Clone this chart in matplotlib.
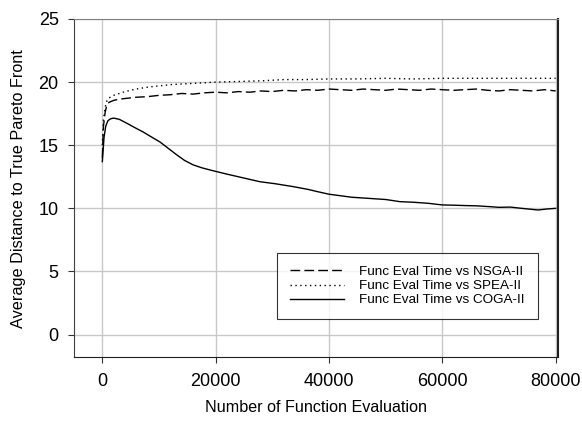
import matplotlib.pyplot as plt

plt.rcParams['font.family'] = ['Liberation Sans', 'DejaVu Sans']

# COGA-II (solid)
x_coga = [0, 300, 600, 1000, 1500, 2000, 3000, 4300, 5500, 7200, 8500, 10200, 11500,
          13100, 14500, 16000, 17500, 19000, 21900, 25000, 27800, 30500, 33700, 36300,
          38000, 40000, 42000, 44000, 46000, 48000, 50000, 52500, 55000, 57500, 60000,
          62000, 64000, 66000, 68500, 70000, 72000, 74000, 76900, 78500, 80000]
y_coga = [13.7, 15.6, 16.5, 16.95, 17.1, 17.15, 17.05, 16.75, 16.45, 16.05, 15.7, 15.25, 14.8,
          14.25, 13.8, 13.45, 13.22, 13.04, 12.72, 12.4, 12.11, 11.95, 11.72, 11.5,
          11.32, 11.12, 11.0, 10.88, 10.82, 10.76, 10.7, 10.53, 10.48, 10.4, 10.27,
          10.25, 10.22, 10.2, 10.13, 10.08, 10.1, 10.0, 9.87, 9.95, 10.0]

# NSGA-II (dashed)
x_nsga = [0, 200, 500, 800, 1200, 2000, 3000, 4000, 5000, 6000, 8000, 10000,
          12000, 14000, 16000, 18000, 20000, 22000, 24000, 26000, 28000, 30000,
          32000, 34000, 36000, 38000, 40000, 42000, 44000, 46000, 48000, 50000,
          52000, 54000, 56000, 58000, 60000, 62000, 64000, 66000, 68000, 70000,
          72000, 74000, 76000, 78000, 80000]
y_nsga = [14.0, 16.5, 17.6, 18.2, 18.4, 18.55, 18.65, 18.7, 18.75, 18.8, 18.85, 18.95,
          19.0, 19.1, 19.05, 19.15, 19.2, 19.15, 19.25, 19.2, 19.3, 19.25,
          19.35, 19.3, 19.4, 19.35, 19.45, 19.4, 19.35, 19.45, 19.4, 19.35,
          19.45, 19.4, 19.35, 19.45, 19.4, 19.35, 19.4, 19.45, 19.35, 19.3,
          19.4, 19.35, 19.3, 19.4, 19.3]

# SPEA-II (dotted)
x_spea = [0, 200, 500, 800, 1200, 2000, 3000, 4000, 5000, 6000, 8000, 10000,
          12000, 14000, 16000, 18000, 20000, 24000, 28000, 32000, 36000, 40000,
          45000, 50000, 55000, 60000, 65000, 70000, 75000, 80000]
y_spea = [15.0, 17.0, 18.0, 18.5, 18.75, 18.95, 19.1, 19.25, 19.35, 19.45, 19.6, 19.7,
          19.8, 19.85, 19.9, 19.95, 20.0, 20.05, 20.1, 20.2, 20.2, 20.25,
          20.25, 20.3, 20.25, 20.3, 20.3, 20.3, 20.3, 20.3]

fig = plt.figure(figsize=(5.82, 4.21), dpi=100)
ax = fig.add_axes([0.1271, 0.1513, 0.8325, 0.8036])

ax.plot(x_nsga, y_nsga, color='black', linewidth=1, dashes=(7, 3),
        label='Func Eval Time vs NSGA-II')
ax.plot(x_spea, y_spea, color='black', linewidth=1, dashes=(1, 2.5),
        label='Func Eval Time vs SPEA-II')
ax.plot(x_coga, y_coga, color='black', linewidth=1, label='Func Eval Time vs COGA-II')

ax.set_xlim(-5000, 80500)
ax.set_ylim(-1.8, 25)
ax.set_xticks([0, 20000, 40000, 60000, 80000])
ax.set_yticks([0, 5, 10, 15, 20, 25])
ax.grid(True, color='#c8c8c8', linewidth=1)
ax.set_axisbelow(True)
ax.tick_params(labelsize=13, length=4, color='#333333', pad=7)

ax.spines['top'].set_color('#808080')
ax.spines['left'].set_color('#404040')
ax.spines['bottom'].set_color('#202020')
ax.spines['right'].set_color('#202020')
ax.spines['right'].set_linewidth(1.5)

ax.set_xlabel('Number of Function Evaluation', fontsize=11.6, labelpad=7.5)
ax.set_ylabel('Average Distance to True Pareto Front', fontsize=11.7, labelpad=9)

leg = ax.legend(loc='lower left', bbox_to_anchor=(0.419, 0.113), borderaxespad=0,
                fontsize=9.7, frameon=True, fancybox=False, handlelength=4.06,
                handletextpad=1.1, labelspacing=0.12, borderpad=0.95)
leg.get_frame().set_edgecolor('black')
leg.get_frame().set_linewidth(0.8)

fig.savefig('out.png', dpi=100)
